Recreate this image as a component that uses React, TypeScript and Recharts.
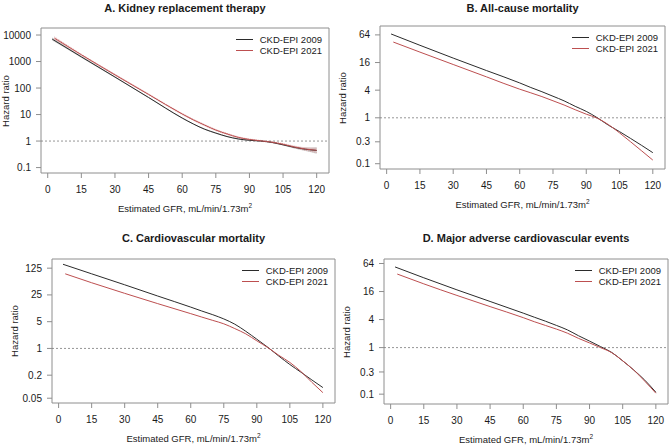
import {
  ComposedChart,
  Line,
  Area,
  XAxis,
  YAxis,
  ReferenceLine,
  ReferenceArea,
} from "recharts";

const FONT = "'Liberation Sans', Arial, Helvetica, sans-serif";
const BLACK = "#2b2b2b";
const RED = "#bd4f50";
const FRAME = "#8e8e8e";
const TEXT = "#1a1a1a";

// eGFR grid (mL/min/1.73m2); 2009 curve starts at 2, 2021 at 3
const gfrBlack = [2, 15, 30, 45, 60, 65, 70, 75, 80, 85, 90, 95, 100, 105, 110, 115, 120];
const gfrRed = [3, 15, 30, 45, 60, 65, 70, 75, 80, 85, 90, 95, 100, 105, 110, 115, 120];
const gfrTicks = [0, 15, 30, 45, 60, 75, 90, 105, 120];

// A. Kidney replacement therapy
const krtBlack = [7000, 1500, 260, 44, 7.4, 4.4, 2.8, 2.0, 1.48, 1.2, 1.07, 1.0, 0.89, 0.72, 0.58, 0.49, 0.44];
const krtBlackLo = [6200, 1400, 245, 42, 7.0, 4.2, 2.65, 1.9, 1.42, 1.15, 1.03, 0.96, 0.85, 0.68, 0.52, 0.42, 0.33];
const krtBlackHi = [8000, 1620, 272, 46, 7.8, 4.6, 2.95, 2.1, 1.55, 1.25, 1.11, 1.04, 0.93, 0.76, 0.64, 0.57, 0.58];
const krtRed = [7600, 1800, 316, 57.5, 10.5, 6.3, 4.0, 2.6, 1.86, 1.38, 1.15, 1.02, 0.91, 0.76, 0.6, 0.5, 0.45];
const krtRedLo = [6800, 1700, 300, 55, 10.0, 6.0, 3.8, 2.47, 1.77, 1.32, 1.1, 0.98, 0.87, 0.72, 0.56, 0.45, 0.37];
const krtRedHi = [8500, 1900, 333, 60, 11.0, 6.6, 4.2, 2.74, 1.95, 1.45, 1.2, 1.06, 0.95, 0.8, 0.65, 0.56, 0.54];
const krtTicks = [0.1, 1, 10, 100, 1000, 10000];

// B. All-cause mortality
const acmBlack = [67, 38, 20, 10.7, 5.75, 4.57, 3.7, 2.95, 2.34, 1.78, 1.38, 1.0, 0.69, 0.5, 0.355, 0.25, 0.174];
const acmRed = [44.7, 27, 14.5, 7.8, 4.2, 3.5, 2.9, 2.35, 1.9, 1.5, 1.2, 0.98, 0.71, 0.47, 0.3, 0.19, 0.12];
const acmTicks = [0.1, 0.3, 1, 4, 16, 64];

// C. Cardiovascular mortality
const cvmBlack = [158, 89, 46, 23.4, 12, 9.5, 7.6, 5.9, 4.3, 2.8, 1.74, 1.07, 0.63, 0.38, 0.24, 0.15, 0.095];
const cvmRed = [89, 52, 27.5, 14.8, 8.1, 6.6, 5.4, 4.4, 3.3, 2.4, 1.58, 1.05, 0.66, 0.43, 0.25, 0.13, 0.07];
const cvmTicks = [0.05, 0.2, 1, 5, 25, 125];

// D. Major adverse cardiovascular events
const maceBlack = [54, 31.6, 17.4, 9.8, 5.5, 4.5, 3.7, 3.0, 2.4, 1.8, 1.38, 1.05, 0.79, 0.52, 0.33, 0.2, 0.11];
const maceRed = [38, 23.4, 13.2, 7.6, 4.4, 3.6, 3.0, 2.5, 2.04, 1.58, 1.26, 1.0, 0.78, 0.52, 0.33, 0.19, 0.105];
const maceTicks = [0.1, 0.3, 1, 4, 16, 64];

const X_DOMAIN: [number, number] = [-3, 125.5];
const YW = 46;
const PAD = 6;
const XH = 30;

type Box = { x: number; y: number; w: number; h: number };

interface PanelProps {
  title: string;
  titleY: number;
  box: Box;
  yDomain: [number, number];
  yTicks: number[];
  black: number[];
  red: number[];
  blackLo?: number[];
  blackHi?: number[];
  redLo?: number[];
  redHi?: number[];
}

function rows(xs: number[], ys: number[], lo?: number[], hi?: number[]) {
  return xs.map((x, i) => ({
    gfr: x,
    hr: ys[i],
    band: lo && hi ? [lo[i], hi[i]] : undefined,
  }));
}

function Panel({ title, titleY, box, yDomain, yTicks, black, red, blackLo, blackHi, redLo, redHi }: PanelProps) {
  const blackRows = rows(gfrBlack, black, blackLo, blackHi);
  const redRows = rows(gfrRed, red, redLo, redHi);
  const cx = box.x + box.w / 2;
  const cy = box.y + box.h / 2;

  return (
    <>
      <div
        style={{
          position: "absolute",
          left: cx,
          top: titleY,
          transform: "translate(-50%, -50%)",
          lineHeight: 1,
          fontWeight: "bold",
          fontSize: 11,
          color: TEXT,
          whiteSpace: "nowrap",
        }}
      >
        {title}
      </div>

      <div style={{ position: "absolute", left: box.x - YW, top: box.y - PAD }}>
        <ComposedChart
          width={YW + box.w + PAD}
          height={PAD + box.h + XH}
          margin={{ top: PAD, right: PAD, bottom: 0, left: 0 }}
        >
          <XAxis
            type="number"
            dataKey="gfr"
            domain={X_DOMAIN}
            ticks={gfrTicks}
            interval={0}
            allowDataOverflow
            axisLine={false}
            tickLine={{ stroke: FRAME }}
            tickSize={5}
            tickMargin={8}
            height={XH}
            tick={{ fontSize: 10, fill: TEXT, fontFamily: FONT }}
          />
          <YAxis
            type="number"
            scale="log"
            domain={yDomain}
            ticks={yTicks}
            interval={0}
            allowDataOverflow
            axisLine={false}
            tickLine={{ stroke: FRAME }}
            tickSize={5}
            tickMargin={5}
            width={YW}
            tick={{ fontSize: 10, fill: TEXT, fontFamily: FONT }}
          />
          <ReferenceArea
            x1={X_DOMAIN[0]}
            x2={X_DOMAIN[1]}
            y1={yDomain[0]}
            y2={yDomain[1]}
            fill="none"
            stroke={FRAME}
            strokeWidth={1}
            ifOverflow="visible"
          />
          <ReferenceLine y={1} stroke="#7a7a7a" strokeDasharray="2 2" strokeWidth={0.8} />
          {blackLo && (
            <Area
              data={blackRows}
              dataKey="band"
              type="monotone"
              stroke="none"
              fill="#6e6e6e"
              fillOpacity={0.35}
              isAnimationActive={false}
            />
          )}
          {redLo && (
            <Area
              data={redRows}
              dataKey="band"
              type="monotone"
              stroke="#d9a0a0"
              strokeDasharray="1 1"
              strokeWidth={0.8}
              fill="#e6b8b8"
              fillOpacity={0.35}
              isAnimationActive={false}
            />
          )}
          <Line
            data={blackRows}
            dataKey="hr"
            type="monotone"
            stroke={BLACK}
            strokeWidth={1}
            dot={false}
            isAnimationActive={false}
          />
          <Line
            data={redRows}
            dataKey="hr"
            type="monotone"
            stroke={RED}
            strokeWidth={1}
            dot={false}
            isAnimationActive={false}
          />
        </ComposedChart>
      </div>

      <div
        style={{
          position: "absolute",
          left: cx,
          top: box.y + box.h + 35.5,
          transform: "translate(-50%, -50%)",
          lineHeight: 1,
          fontSize: 9.5,
          color: TEXT,
          whiteSpace: "nowrap",
        }}
      >
        Estimated GFR, mL/min/1.73m<sup style={{ fontSize: 6.5, verticalAlign: 4, lineHeight: 0 }}>2</sup>
      </div>

      <div
        style={{
          position: "absolute",
          left: Math.max(box.x - 37.5, 5.5),
          top: cy,
          transform: "translate(-50%, -50%) rotate(-90deg)",
          lineHeight: 1,
          fontSize: 9.5,
          color: TEXT,
          whiteSpace: "nowrap",
        }}
      >
        Hazard ratio
      </div>

      <div
        style={{
          position: "absolute",
          right: 669 - (box.x + box.w - 7),
          top: box.y + 6,
          fontSize: 9.5,
          color: TEXT,
        }}
      >
        {[
          { label: "CKD-EPI 2009", color: BLACK },
          { label: "CKD-EPI 2021", color: RED },
        ].map((item) => (
          <div key={item.label} style={{ display: "flex", alignItems: "center", height: 11 }}>
            <span
              style={{
                display: "inline-block",
                width: 17,
                borderTop: `1px solid ${item.color}`,
                marginRight: 7,
              }}
            />
            <span>{item.label}</span>
          </div>
        ))}
      </div>
    </>
  );
}

export default function App() {
  return (
    <div
      style={{
        position: "absolute",
        left: 0,
        top: 0,
        width: 669,
        height: 445,
        background: "#fff",
        fontFamily: FONT,
        overflow: "hidden",
      }}
    >
      <Panel
        title="A. Kidney replacement therapy"
        titleY={8}
        box={{ x: 41, y: 28, w: 288, h: 145 }}
        yDomain={[0.0624, 18400]}
        yTicks={krtTicks}
        black={krtBlack}
        red={krtRed}
        blackLo={krtBlackLo}
        blackHi={krtBlackHi}
        redLo={krtRedLo}
        redHi={krtRedHi}
      />
      <Panel
        title="B. All-cause mortality"
        titleY={8}
        box={{ x: 380, y: 26, w: 285, h: 143 }}
        yDomain={[0.0767, 100]}
        yTicks={acmTicks}
        black={acmBlack}
        red={acmRed}
      />
      <Panel
        title="C. Cardiovascular mortality"
        titleY={237.5}
        box={{ x: 52, y: 259, w: 283, h: 144 }}
        yDomain={[0.0375, 217]}
        yTicks={cvmTicks}
        black={cvmBlack}
        red={cvmRed}
      />
      <Panel
        title="D. Major adverse cardiovascular events"
        titleY={237.5}
        box={{ x: 384, y: 259, w: 284, h: 145 }}
        yDomain={[0.0615, 80]}
        yTicks={maceTicks}
        black={maceBlack}
        red={maceRed}
      />
    </div>
  );
}
